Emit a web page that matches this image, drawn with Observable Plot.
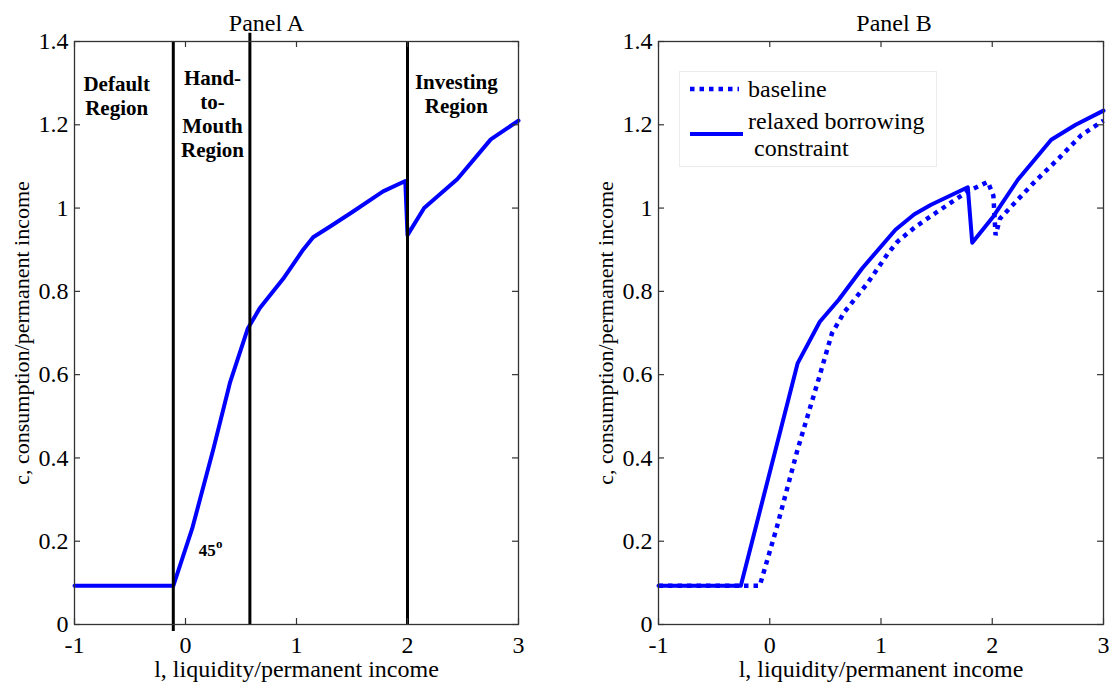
<!DOCTYPE html>
<html>
<head>
<meta charset="utf-8">
<script src="https://cdn.jsdelivr.net/npm/d3@7"></script>
<script src="https://cdn.jsdelivr.net/npm/@observablehq/plot@0.6"></script>
<style>
  html, body { margin: 0; padding: 0; background: #fff; overflow: hidden; }
  #wrap { position: relative; width: 1109px; height: 684px; font-family: "Liberation Serif", "Times New Roman", serif; }
  #panelA { position: absolute; left: 0; top: 0; }
  #panelB { position: absolute; left: 584px; top: 0; }
  #legend { position: absolute; left: 0; top: 0; pointer-events: none; }
</style>
</head>
<body>
<div id="wrap">
  <div id="panelA"></div>
  <div id="panelB"></div>
  <svg id="legend" width="1109" height="684"></svg>
</div>
<script>
// ---------- data ----------
const xTicks = [-1, 0, 1, 2, 3];
const yTicks = [0, 0.2, 0.4, 0.6, 0.8, 1, 1.2, 1.4];
const xLabel = "l, liquidity/permanent income";
const yLabel = "c, consumption/permanent income";
const panelTitles = ["Panel A", "Panel B"];

// Panel A: consumption policy (baseline)
const panelA_l = [-1, -0.11, 0.06, 0.25, 0.40, 0.56, 0.67, 0.88, 1.06, 1.15, 1.31, 1.50, 1.78, 1.98, 2.00, 2.15, 2.45, 2.75, 3.00];
const panelA_c = [0.093, 0.093, 0.23, 0.42, 0.58, 0.71, 0.76, 0.83, 0.90, 0.93, 0.957, 0.99, 1.04, 1.065, 0.935, 1.00, 1.07, 1.165, 1.21];

// Panel A region boundaries
const boundaryL = [-0.11, 0.58, 2.0];
const boundaryLow = [-0.017, 0, 0];
const boundaryHigh = [1.4, 1.42, 1.4];

// Panel A region labels
const regionText = ["Default\nRegion", "Hand-\nto-\nMouth\nRegion", "Investing\nRegion"];
const regionL = [-0.62, 0.243, 2.44];
const regionC = [1.27, 1.228, 1.276];
const angleText = ["45"];
const angleL = [0.195];
const angleC = [0.178];

// Panel B: baseline (dotted)
const baseline_l = [-1, -0.09, 0.06, 0.25, 0.44, 0.56, 0.67, 0.88, 1.06, 1.15, 1.31, 1.50, 1.78, 1.96, 2.01, 2.03, 2.07, 2.37, 2.60, 2.80, 3.0];
const baseline_c = [0.093, 0.093, 0.23, 0.42, 0.59, 0.70, 0.75, 0.82, 0.89, 0.92, 0.955, 0.99, 1.04, 1.063, 1.03, 0.935, 0.975, 1.06, 1.12, 1.175, 1.21];
// Panel B: relaxed borrowing constraint (solid)
const relaxed_l = [-1, -0.26, 0.25, 0.45, 0.62, 0.83, 1.13, 1.30, 1.45, 1.78, 1.82, 2.01, 2.23, 2.53, 2.75, 3.0];
const relaxed_c = [0.093, 0.093, 0.627, 0.727, 0.78, 0.855, 0.948, 0.985, 1.008, 1.05, 0.917, 0.98, 1.068, 1.164, 1.20, 1.234];

const legendLabels = ["baseline", "relaxed borrowing", " constraint"];

// ---------- helpers ----------
const zip = (xs, ys) => xs.map((x, i) => ({l: x, c: ys[i]}));
const fmt = d => String(d);
const BLUE = "#0000ff";
const FONT = "'Liberation Serif', 'Times New Roman', serif";
const H = 684, MT = 41, MB = 60, ML = 74;
const frameH = H - MT - MB;

function framingMarks(frameW, title, titleDx) {
  return [
    Plot.frame({stroke: "#333", strokeWidth: 1.3}),
    // inward ticks on all four sides
    Plot.tickX(xTicks, {x: d => d, insetTop: frameH - 6, stroke: "#333", strokeWidth: 1.2}),
    Plot.tickX(xTicks, {x: d => d, insetBottom: frameH - 6, stroke: "#333", strokeWidth: 1.2}),
    Plot.tickY(yTicks, {y: d => d, insetRight: frameW - 6, stroke: "#333", strokeWidth: 1.2}),
    Plot.tickY(yTicks, {y: d => d, insetLeft: frameW - 6, stroke: "#333", strokeWidth: 1.2}),
    Plot.axisX({ticks: xTicks, tickSize: 0, tickPadding: 11, tickFormat: fmt, label: null, fontSize: 24}),
    Plot.axisY({ticks: yTicks, tickSize: 0, tickPadding: 6, tickFormat: fmt, label: null, fontSize: 24}),
    Plot.text([xLabel], {frameAnchor: "bottom", lineAnchor: "middle", textAnchor: "middle", dy: 45, fontSize: 24, text: d => d}),
    Plot.text([yLabel], {frameAnchor: "left", lineAnchor: "middle", textAnchor: "middle", dx: -53, rotate: -90, fontSize: 22, text: d => d}),
    Plot.text([title], {frameAnchor: "top", lineAnchor: "middle", textAnchor: "middle", dx: titleDx, dy: -18, fontSize: 24, text: d => d})
  ];
}

function makePlot(width, marginRight, marks) {
  return Plot.plot({
    width, height: H,
    marginTop: MT, marginBottom: MB, marginLeft: ML, marginRight,
    x: {domain: [-1, 3]},
    y: {domain: [0, 1.4]},
    style: {fontFamily: FONT, fontSize: "24px", color: "#000", background: "transparent", overflow: "visible"},
    marks
  });
}

// ---------- Panel A ----------
const widthA = 540, mrA = 22;
const frameWA = widthA - ML - mrA;
const boundaries = boundaryL.map((l, i) => ({l, lo: boundaryLow[i], hi: boundaryHigh[i]}));
const regions = regionText.map((t, i) => ({t, l: regionL[i], c: regionC[i]}));
const angle = angleText.map((t, i) => ({t, l: angleL[i], c: angleC[i]}));

const plotA = makePlot(widthA, mrA, [
  Plot.line(zip(panelA_l, panelA_c), {x: "l", y: "c", stroke: BLUE, strokeWidth: 4, strokeLinejoin: "round"}),
  Plot.ruleX(boundaries, {x: "l", y1: "lo", y2: "hi", stroke: "#000", strokeWidth: 3}),
  Plot.text(regions, {x: "l", y: "c", text: "t", fontWeight: "bold", fontSize: 21, lineHeight: 1.14}),
  Plot.text(angle, {x: "l", y: "c", text: "t", fontWeight: "bold", fontSize: 17}),
  Plot.text(angle, {x: "l", y: "c", text: () => "o", fontWeight: "bold", fontSize: 13, dx: 12, dy: -7}),
  ...framingMarks(frameWA, panelTitles[0], -30)
]);
document.getElementById("panelA").appendChild(plotA);

// ---------- Panel B ----------
const widthB = 525, mrB = 6;
const frameWB = widthB - ML - mrB;
const plotB = makePlot(widthB, mrB, [
  Plot.line(zip(baseline_l, baseline_c), {x: "l", y: "c", stroke: BLUE, strokeWidth: 4.5, strokeDasharray: "4.5,5", strokeLinecap: "butt", strokeLinejoin: "miter"}),
  Plot.line(zip(relaxed_l, relaxed_c), {x: "l", y: "c", stroke: BLUE, strokeWidth: 4, strokeLinejoin: "round"}),
  ...framingMarks(frameWB, panelTitles[1], 13)
]);
document.getElementById("panelB").appendChild(plotB);

// ---------- Legend (Panel B) ----------
const lg = d3.select("#legend");
lg.append("rect").attr("x", 679.5).attr("y", 71.5).attr("width", 257).attr("height", 95)
  .attr("fill", "#fff").attr("stroke", "#ececec").attr("stroke-width", 1);
lg.append("line").attr("x1", 690).attr("x2", 739).attr("y1", 89).attr("y2", 89)
  .attr("stroke", BLUE).attr("stroke-width", 4.5).attr("stroke-dasharray", "4.5,5");
lg.append("line").attr("x1", 690).attr("x2", 743).attr("y1", 134).attr("y2", 134)
  .attr("stroke", BLUE).attr("stroke-width", 4);
const ly = [89, 121, 148];
const lx = [748, 748, 748];
lg.selectAll("text.lab").data(legendLabels).join("text")
  .attr("x", (d, i) => lx[i]).attr("y", (d, i) => ly[i])
  .attr("dy", "0.32em")
  .attr("font-family", FONT).attr("font-size", 24).attr("fill", "#000")
  .attr("xml:space", "preserve").style("white-space", "pre")
  .text(d => d);
</script>
</body>
</html>
